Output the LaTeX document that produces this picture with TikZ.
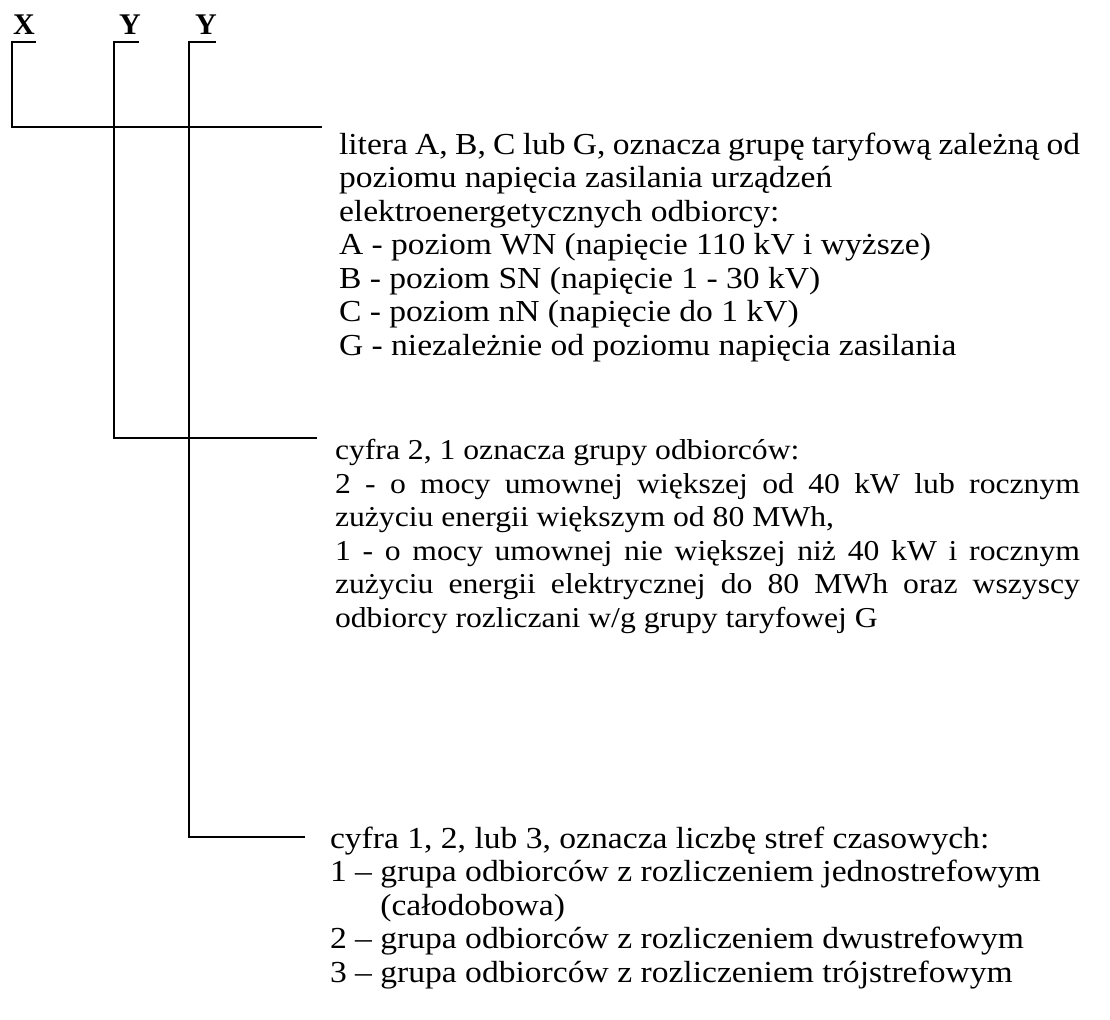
\documentclass[tikz,border=0pt]{standalone}
\usepackage{fontspec}
\setmainfont{Liberation Serif}
\newfontfamily\tnr[FakeStretch=1.1]{Liberation Serif}
\newcommand{\jl}[2]{\makebox[#1][s]{#2}}
\begin{document}
\begin{tikzpicture}[x=0.75pt,y=-0.75pt,
  txt/.style={anchor=base west, inner sep=0pt, outer sep=0pt, align=left,
    font=\tnr\fontsize{22.9}{25.1}\selectfont},
  txtb/.style={txt, font=\tnr\fontsize{21.6}{25.1}\selectfont},
  letter/.style={anchor=base west, inner sep=0pt, outer sep=0pt,
    font=\bfseries\fontsize{22.5}{24}\selectfont},
  conn/.style={line width=1.8pt}]
\fill[white] (0,0) rectangle (1110,1020);
\useasboundingbox (0,0) rectangle (1110,1020);

\node[letter] (lx)  at (13,35)  {X};
\node[letter] (ly1) at (119,35) {Y};
\node[letter] (ly2) at (195,35) {Y};

% base west = baseline of the last line
\node[txt] (t1) at (339,355) {\jl{555.75pt}{litera A, B, C lub G, oznacza grupę taryfową zależną od}\\
poziomu napięcia zasilania urządzeń\\
elektroenergetycznych odbiorcy:\\
A - poziom WN (napięcie 110 kV i wyższe)\\
B - poziom SN (napięcie 1 - 30 kV)\\
C - poziom nN (napięcie do 1 kV)\\
G - niezależnie od poziomu napięcia zasilania};

\node[txtb] (t2) at (335,627) {cyfra 2, 1 oznacza grupy odbiorców:\\
\jl{558.75pt}{2 - o mocy umownej większej od 40 kW lub rocznym}\\
zużyciu energii większym od 80 MWh,\\
\jl{558.75pt}{1 - o mocy umownej nie większej niż 40 kW i rocznym}\\
\jl{558.75pt}{zużyciu energii elektrycznej do 80 MWh oraz wszyscy}\\
odbiorcy rozliczani w/g grupy taryfowej G};

\node[txt] (t3) at (330,982) {cyfra 1, 2, lub 3, oznacza liczbę stref czasowych:\\
1 – grupa odbiorców z rozliczeniem jednostrefowym\\
\phantom{1 – }(całodobowa)\\
2 – grupa odbiorców z rozliczeniem dwustrefowym\\
3 – grupa odbiorców z rozliczeniem trójstrefowym};

\draw[conn] ([shift={(23,7)}]lx.base west) -- ([shift={(-1,7)}]lx.base west)
  |- ([shift={(-17,-228)}]t1.base west);
\draw[conn] ([shift={(20,7)}]ly1.base west) -- ([shift={(-5,7)}]ly1.base west)
  |- ([shift={(-18,-189)}]t2.base west);
\draw[conn] ([shift={(21,7)}]ly2.base west) -- ([shift={(-6,7)}]ly2.base west)
  |- ([shift={(-25,-145)}]t3.base west);
\end{tikzpicture}
\end{document}
